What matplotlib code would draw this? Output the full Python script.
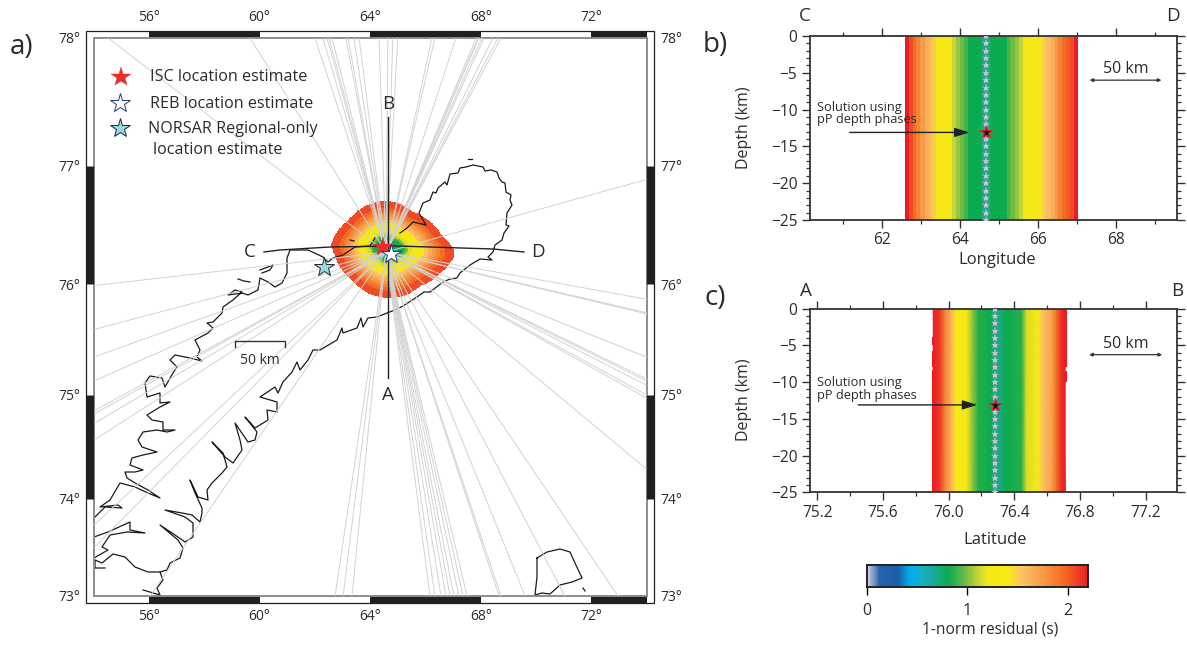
import numpy as np
import matplotlib
matplotlib.use("Agg")
import matplotlib.pyplot as plt
from matplotlib.colors import LinearSegmentedColormap, Normalize
from matplotlib.patches import Rectangle

plt.rcParams['font.family'] = ['Open Sans', 'DejaVu Sans']
W, H = 1187, 646
TXT = '#2b2b2b'

# ---------- data ----------
EVENT = (64.57, 76.28)
ISC = (64.46, 76.32)
REB = (64.75, 76.26)
NORSAR = (62.33, 76.15)
RAY_TOP_LON = [54.52, 59.65, 62.0, 62.29, 62.44, 62.51, 62.62, 63.12, 63.2, 63.41, 63.6, 64.32, 64.64,
               64.82, 65.0, 66.23, 66.34, 67.1, 67.83, 67.9, 67.93, 68.04, 68.12, 68.44, 68.62, 68.73]
RAY_BOTTOM_LON = [56.04, 62.73, 63.02, 63.34, 66.16, 66.34, 66.56, 66.74, 66.89, 67.03, 67.21, 67.36, 67.5,
                  68.66, 68.73, 69.6, 71.04, 72.96]
RAY_LEFT_LAT = [75.99, 75.60, 75.35, 75.13, 74.85, 74.82, 74.73, 74.57, 73.73, 73.5]
RAY_RIGHT_LAT = [76.89, 75.87, 75.75, 75.74, 75.35, 75.15, 75.13, 75.09, 75.0, 74.97, 74.29]

# coast and outlines, as image pixels
COAST_NORTH = [(400,233),(407,228),(413,222),(426,225),(419,213),(423,203),(430,200),(433,192),(436,193),(438,188),(445,182),
    (447,185),(450,174),(458,173),(460,168),(466,167),(473,165),(478,166),(483,167),(485,171),(491,170),(497,172),(499,178),(502,182),(505,183),(506,192),(511,195),
    (510,200),(512,205),(507,213),(506,225),(509,226),(504,233),(502,240),(495,245),(493,252),(488,257),(492,260),(480,259),(470,265),
    (460,273),(457,278),(450,279),(443,282),(430,292),(424,292),(417,297),(403,306),(395,310),(387,313),(377,317),(368,318),(363,327),
    (361,318),(357,328),(343,333),(342,328),(337,340),(320,350),(313,350),(308,360),(300,370),(297,362),(292,372),
    (283,382),(278,393),(275,387),(260,397),(277,402),(277,412),(267,410),(268,420),(255,428),(245,417),(257,432),
    (255,440),(248,442),(235,423),(240,440),(242,450),(233,463),(225,457),(212,442),(223,453),(227,467),(222,473),
    (212,483),(207,490),(208,500),(198,497),(190,480),(195,493),(202,508),(202,513),(200,522),(192,515),(182,513),
    (165,510),(185,517),(193,523),(193,537),(185,542),(175,535),(160,525),(178,540),(183,548),(180,558),(170,563),
    (167,570),(160,572),(163,580),(157,588),(160,595),(143,590)]
COAST_WEST = [(375,238),(370,246),(355,247),(343,255),(333,258),(328,262),(323,257),(308,250),(290,250),(287,258),
    (287,273),(282,283),(275,287),(268,282),(260,278),(258,290),(248,295),(242,293),(228,295),(235,290),(242,292),
    (233,300),(223,307),(222,313),(213,322),(207,323),(213,328),(208,333),(195,340),(200,350),(197,357),(202,361),
    (190,358),(175,355),(170,360),(177,367),(173,373),(165,387),(162,378),(150,376),(145,383),(147,397),(160,393),
    (160,403),(170,402),(160,407),(147,415),(152,420),(163,422),(163,430),(175,430),(167,432),(157,430),(143,432),
    (138,440),(142,447),(157,452),(143,455),(132,458),(130,465),(143,470),(135,472),(125,472),(127,478),(135,483),
    (148,490),(160,498),(148,493),(135,487),(120,483),(110,500),(100,507),(118,505),(122,508),(105,507),(94,518)]
COAST_SW1 = [(94,537),(108,532),(130,522),(130,530),(145,533),(127,532),(110,535),(102,547),(108,550),(94,558)]
COAST_SW2 = [(160,572),(148,572),(135,567),(125,557),(113,554),(102,563),(95,560),(95,568),(105,568)]
ISLAND_KOLGUEV = [(537,558),(547,552),(560,549),(570,552),(575,563),(582,578),(572,582),(560,585),(550,594),
    (542,593),(535,595),(537,577),(537,558)]
ISLETS = [[(260,270),(273,265),(270,270),(262,273)], [(238,279),(244,281),(250,282)], [(350,240),(354,241)],
          [(468,159),(472,159)], [(583,588),(585,591)]]
BLOB_EDGE = [(387,202),(413,213),(440,235),(453,250),(453,258),(440,272),(420,285),(400,296),(387,297),
             (370,293),(353,280),(335,253),(332,245),(350,220),(370,205)]
BLOB_CENTER = (387, 248)
BLOB_RHO = [0, .06, .25, .3, .34, .40, .54, .58, .64, .70, .76, .82, .89, 1.0]
BLOB_RESID = [.68, .8, .85, 1.0, 1.15, 1.3, 1.35, 1.55, 1.65, 1.75, 1.85, 1.95, 2.05, 2.2]
LINE_CD = [(264,252),(280,250),(330,247),(397,246),(430,247),(493,249),(524,252)]
LINE_AB = [(388,117),(388,378)]

CBAR_POS = [0.0, 0.03, 0.12, 0.3, 0.42, 0.55, 0.68, 0.8, 0.95, 1.1, 1.2, 1.4, 1.55, 1.75, 1.95, 2.2]
CBAR_COL = ['#d5d6ea', '#a9b3d8', '#2a62ac', '#1b5aa8', '#00aeef', '#14b0c0', '#1aa98a', '#0bab4f', '#5fb947',
            '#c4d437', '#f5e616', '#f7ea16', '#fdbf65', '#f79a47', '#f36d25', '#ed1c24']

LON_EDGES = [62.58,62.68,62.78,62.88,62.98,63.09,63.20,63.29,63.39,63.79,63.89,63.99,64.09,64.20,64.56,64.76,
             65.19,65.29,65.40,65.51,65.62,66.11,66.21,66.32,66.42,66.52,66.62,66.71,66.81,66.91,67.02]
LON_RESID = [2.2,2.05,1.95,1.85,1.75,1.65,1.58,1.5,1.3,1.1,1.03,.97,.9,.8,.68,.8,.9,.97,1.03,1.1,1.3,1.5,1.58,
             1.65,1.75,1.85,1.95,2.0,2.05,2.2]
LAT_NODES = [75.907,75.948,75.978,76.019,76.045,76.11,76.15,76.18,76.262,76.272,76.323,76.343,76.444,76.475,
             76.545,76.576,76.626,76.657,76.687,76.71]
LAT_RESID = [2.2,2.1,1.85,1.6,1.4,1.25,1.0,.85,.8,.68,.7,.8,.85,1.15,1.35,1.55,1.7,1.95,2.15,2.2]
LAT_NOTCH_LEFT = [(-3.8,-5.0),(-5.8,-8.0),(-8.3,-25.0)]
LAT_NOTCH_RIGHT = [(0.0,-8.0),(-8.5,-10.0)]
DEPTHS = list(range(0, -26, -1))
SOL_DEPTH = -13.1
SOL_LON = 64.66
SOL_LAT = 76.284

# ---------- helpers ----------
cmap = LinearSegmentedColormap.from_list('resid', [(p/2.2, c) for p, c in zip(CBAR_POS, CBAR_COL)], N=512)
norm = Normalize(0, 2.2)
fig = plt.figure(figsize=(W/100, H/100), dpi=100, facecolor='white')

def axrect(l, t, r, b):
    return fig.add_axes([l/W, 1-b/H, (r-l)/W, (b-t)/H])
def ftext(x, y, s, **kw):
    kw.setdefault('ha', 'center'); kw.setdefault('va', 'center'); kw.setdefault('color', TXT)
    return fig.text(x/W, 1-y/H, s, **kw)
def merc(v):
    return np.log(np.tan(np.pi/4 + np.radians(v)/2))
def imerc(v):
    return np.degrees(2*np.arctan(np.exp(v)) - np.pi/2)

ML, MR, MT, MB = 93.7, 646.7, 38.0, 596.0
SX = (MR-ML)/20.0
SY = (MB-MT)/(merc(78.0)-merc(73.0))
def to_geo(pts):
    a = np.asarray(pts, float)
    return 54 + (a[:,0]-ML)/SX, imerc(merc(78.0) - (a[:,1]-MT)/SY)

# ---------- map ----------
ax = axrect(ML, MT, MR, MB)
ax.set_xlim(54, 74)
ax.set_yscale('function', functions=(merc, imerc))
ax.set_ylim(73, 78)

# residual blob
eb = np.array(BLOB_EDGE, float)
ang = np.arctan2(eb[:,1]-BLOB_CENTER[1], eb[:,0]-BLOB_CENTER[0])
rad = np.hypot(eb[:,0]-BLOB_CENTER[0], eb[:,1]-BLOB_CENTER[1])
o = np.argsort(ang); ang, rad = ang[o], rad[o]
tt = np.linspace(-np.pi, np.pi, 181)
rr = np.interp(tt, np.r_[ang-2*np.pi, ang, ang+2*np.pi], np.r_[rad, rad, rad])
rho = np.array(BLOB_RHO, float)
res = np.array(BLOB_RESID[:-1], float)
gx = BLOB_CENTER[0] + np.outer(rho, rr*np.cos(tt))
gy = BLOB_CENTER[1] + np.outer(rho, rr*np.sin(tt))
glon, glat = to_geo(np.c_[gx.ravel(), gy.ravel()])
ax.pcolormesh(glon.reshape(gx.shape), glat.reshape(gy.shape),
              np.tile(res[:,None], (1, len(tt)-1)), cmap=cmap, norm=norm, shading='flat', zorder=1,
              edgecolors='face', linewidth=0.2)

# coast
for seg in [COAST_NORTH, COAST_WEST, COAST_SW1, COAST_SW2, ISLAND_KOLGUEV] + ISLETS:
    lo, la = to_geo(seg)
    ax.plot(lo, la, color='#1a1a1a', lw=0.9, zorder=2, solid_joinstyle='round')

# rays
ray_kw = dict(color='#d2d2d2', lw=0.7, zorder=3)
for v in RAY_TOP_LON:
    ax.plot([EVENT[0], v], [EVENT[1], 78], **ray_kw)
for v in RAY_BOTTOM_LON:
    ax.plot([EVENT[0], v], [EVENT[1], 73], **ray_kw)
for v in RAY_LEFT_LAT:
    ax.plot([EVENT[0], 54], [EVENT[1], v], **ray_kw)
for v in RAY_RIGHT_LAT:
    ax.plot([EVENT[0], 74], [EVENT[1], v], **ray_kw)

# profiles
for seg in [LINE_CD, LINE_AB]:
    lo, la = to_geo(seg)
    ax.plot(lo, la, color='#222222', lw=1.0, zorder=4)

ax.plot(*ISC, marker='*', ms=15, mfc='#ee2a24', mec='#ee2a24', mew=0.3, zorder=6)
ax.plot(*REB, marker='*', ms=15, mfc='white', mec='#1f3a7a', mew=0.7, zorder=6)
ax.plot(*NORSAR, marker='*', ms=15, mfc='#9ad9e0', mec='#1c2b33', mew=0.7, zorder=6)

# ticks and frame
lon_ticks = [56, 60, 64, 68, 72]
lat_ticks = [73, 74, 75, 76, 77, 78]
ax.set_xticks(lon_ticks, [f'{v}°' for v in lon_ticks])
ax.set_yticks(lat_ticks, [f'{v}°' for v in lat_ticks])
ax.minorticks_off()
ax.tick_params(which='both', length=0, pad=9.5, labelsize=10, labelcolor=TXT, top=True, right=True,
               labeltop=True, labelright=True)
for s in ax.spines.values():
    s.set_color('#8c8c8c'); s.set_linewidth(1.4)
bh = 7.3/(MB-MT)
bw = 7.3/(MR-ML)
xtr, ytr = ax.get_xaxis_transform(), ax.get_yaxis_transform()
for a, b in [(56, 60), (64, 68), (72, 74)]:
    for y0 in (1.0, -bh):
        ax.add_patch(Rectangle((a, y0), b-a, bh, transform=xtr, fc='#231f20', ec='none', clip_on=False))
for a, b in [(76, 77), (74, 75)]:
    for x0 in (-bw, 1.0):
        ax.plot([x0+bw/2, x0+bw/2], [a, b], transform=ytr, color='#231f20', lw=7.3*0.72, clip_on=False,
                solid_capstyle='butt', zorder=5)
ax.add_patch(Rectangle((-bw, -bh), 1+2*bw, 1+2*bh, transform=ax.transAxes, fc='none', ec='#231f20', lw=0.9, clip_on=False))

# legend
lax = fig.add_axes([0, 0, 1, 1], facecolor='none')
lax.set_xlim(0, W); lax.set_ylim(H, 0); lax.axis('off')
lax.plot(121, 77, marker='*', ms=15, mfc='#ee2a24', mec='#ee2a24', mew=0.3)
lax.plot(120, 103, marker='*', ms=15, mfc='white', mec='#1f3a7a', mew=0.7)
lax.plot(120, 128, marker='*', ms=15, mfc='#9ad9e0', mec='#1c2b33', mew=0.7)
ftext(150, 77, 'ISC location estimate', ha='left', fontsize=11.6)
ftext(150, 104, 'REB location estimate', ha='left', fontsize=11.6)
ftext(148, 129, 'NORSAR Regional-only', ha='left', fontsize=11.6)
ftext(153, 150, 'location estimate', ha='left', fontsize=11.6)
lax.plot([235, 235, 285, 285], [347, 341, 341, 347], color='#333333', lw=1.0)
ftext(260, 360, '50 km', fontsize=10)
ftext(388, 104, 'B', fontsize=13.5)
ftext(388, 395, 'A', fontsize=13.5)
ftext(250, 252, 'C', fontsize=13.5)
ftext(538, 252, 'D', fontsize=13.5)
ftext(22, 47, 'a)', fontsize=20)
ftext(715, 45, 'b)', fontsize=20)
ftext(715, 298, 'c)', fontsize=20)

# ---------- side panels ----------
def style_panel(a):
    a.set_ylim(-25, 0)
    a.set_yticks(range(-25, 1, 5), ['−25', '−20', '−15', '−10', '−5', '0'])
    a.set_yticks(DEPTHS, minor=True)
    a.tick_params(which='major', length=5.5, width=1.0, top=True, right=True, direction='out',
                  labelsize=11.2, labelcolor=TXT, color='#333333', pad=3.5)
    a.tick_params(which='minor', length=3, width=0.9, top=True, right=True, direction='out', color='#333333')
    for s in a.spines.values():
        s.set_color('#333333'); s.set_linewidth(1.3)
    a.set_axisbelow(False)

def solution(a, x):
    a.plot([x]*len(DEPTHS), DEPTHS, ls='none', marker='*', ms=6, mfc='#c8c8c8', mec='#9a9a9a', mew=0.2,
           clip_on=True, zorder=4)
    a.plot(x, SOL_DEPTH, marker='*', ms=9.5, mfc='#111111', mec='#e8202a', mew=0.9, zorder=5)

def note(a, x_text, y1, y2, x0, x1, y):
    a.text(x_text, y1, 'Solution using', fontsize=9.2, color=TXT, va='center', zorder=6)
    a.text(x_text, y2, 'pP depth phases', fontsize=9.2, color=TXT, va='center', zorder=6)
    a.annotate('', xy=(x1, y), xytext=(x0, y), zorder=6,
               arrowprops=dict(arrowstyle='-|>,head_length=0.9,head_width=0.28', color='#222222', lw=1.0,
                               shrinkA=0, shrinkB=0))

def scale(a, x0, x1, y, style):
    a.annotate('', xy=(x1, y), xytext=(x0, y),
               arrowprops=dict(arrowstyle=style, color='#333333', lw=0.9, shrinkA=0, shrinkB=0, mutation_scale=5))
    a.text((x0+x1)/2, y+1.45, '50 km', fontsize=11.5, color=TXT, ha='center', va='center')

# panel b
axb = axrect(810, 36, 1177, 220)
axb.set_xlim(60.15, 69.56)
axb.pcolormesh(LON_EDGES, [-25, 0], np.array(LON_RESID)[None, :], cmap=cmap, norm=norm, shading='flat', zorder=1)
style_panel(axb)
axb.set_xticks([62, 64, 66, 68])
axb.set_xticks([61, 63, 65, 67, 69], minor=True)
solution(axb, SOL_LON)
note(axb, 60.33, -9.7, -11.4, 61.17, 64.24, -13.1)
scale(axb, 67.32, 69.16, -6.0, '<|-|>')
ftext(744, 128, 'Depth (km)', rotation=90, fontsize=11.5)
ftext(997, 260, 'Longitude', fontsize=12)
ftext(805, 16, 'C', fontsize=13.5)
ftext(1173, 16, 'D', fontsize=13.5)

# panel c
axc = axrect(810, 308.7, 1177, 492.3)
axc.set_xlim(75.157, 77.39)
xx = np.array(LAT_NODES)
XX, YY = np.meshgrid(xx, [-25, 0])
axc.pcolormesh(XX, YY, np.tile(LAT_RESID, (2, 1)), cmap=cmap, norm=norm, shading='gouraud', zorder=1)
red = cmap(norm(2.2))
for t, b in LAT_NOTCH_LEFT:
    axc.add_patch(Rectangle((75.897, b), 0.012, t-b, fc=red, ec='none', zorder=1))
for t, b in LAT_NOTCH_RIGHT:
    axc.add_patch(Rectangle((76.708, b), 0.012, t-b, fc=red, ec='none', zorder=1))
style_panel(axc)
lat_major = [75.2, 75.6, 76.0, 76.4, 76.8, 77.2]
axc.set_xticks(lat_major, [f'{v:.1f}' for v in lat_major])
axc.set_xticks([75.4, 75.8, 76.2, 76.6, 77.0], minor=True)
solution(axc, SOL_LAT)
note(axc, 75.2, -10.0, -11.8, 75.45, 76.175, -13.1)
scale(axc, 76.855, 77.3, -6.26, '<|-|>')
ftext(744, 400, 'Depth (km)', rotation=90, fontsize=11.5)
ftext(995, 540, 'Latitude', fontsize=12)
ftext(806, 291, 'A', fontsize=13.5)
ftext(1177, 291, 'B', fontsize=13.5)

# colorbar
cax = axrect(867, 565, 1088, 587)
cvals = np.linspace(0, 2.2, 256)
cax.pcolormesh(cvals, [0, 1], np.c_[cvals[:-1]].T, cmap=cmap, norm=norm, shading='flat')
cax.set_xlim(0, 2.2)
cax.set_yticks([])
cax.set_xticks([0, 1, 2])
cax.tick_params(length=5.5, width=1.0, labelsize=11.5, labelcolor=TXT, pad=6)
for s in cax.spines.values():
    s.set_linewidth(1.4); s.set_color('#222222')
ftext(990, 629, '1-norm residual (s)', fontsize=11.2)

fig.savefig('out.png', dpi=100, facecolor='white')
